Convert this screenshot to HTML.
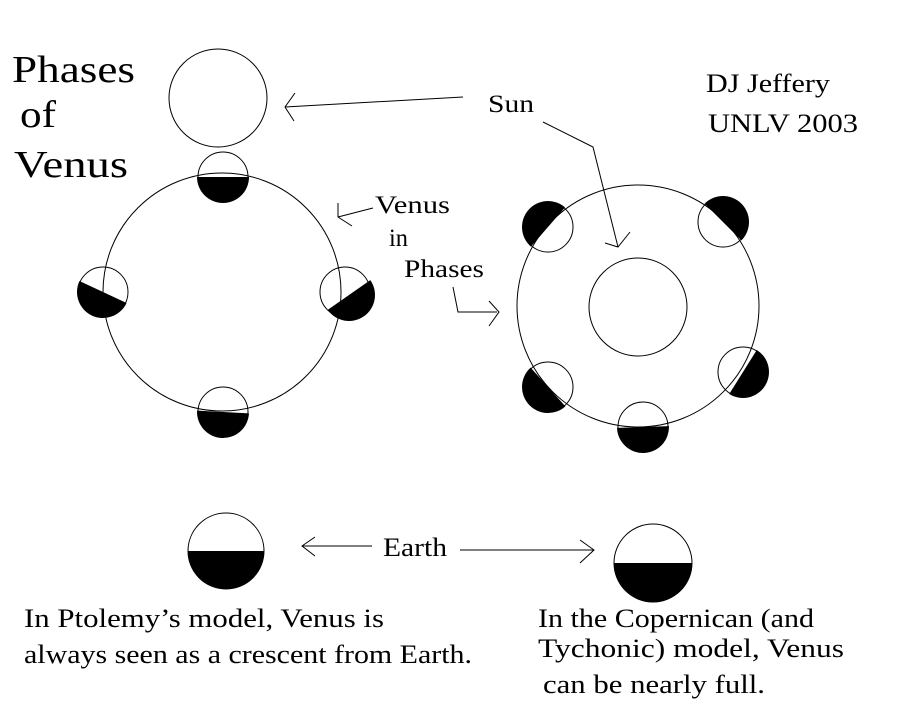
<!DOCTYPE html>
<html><head><meta charset="utf-8"><style>
html,body{margin:0;padding:0;background:#fff;}
svg{display:block;}
text{font-family:"Liberation Serif",serif;fill:#000;}
</style></head><body>
<svg width="922" height="714" viewBox="0 0 922 714" xmlns="http://www.w3.org/2000/svg">
<defs>
<path id="hd" d="M -26 0 A 26 26 0 0 0 26 0 Z" fill="#000"/>
</defs>
<g fill="none" stroke="#000" stroke-width="1">
<circle cx="218" cy="98" r="49"/>
<circle cx="222" cy="292" r="119"/>
<circle cx="638" cy="306" r="121"/>
<circle cx="638" cy="307" r="49"/>
</g>
<g>
<use href="#hd" transform="translate(223,177) rotate(0)"/>
<circle cx="223" cy="177" r="25" fill="none" stroke="#000"/>
<use href="#hd" transform="translate(103,292) rotate(25)"/>
<circle cx="103" cy="292" r="25" fill="none" stroke="#000"/>
<use href="#hd" transform="translate(345,292) translate(4,3) rotate(-35)"/>
<circle cx="345" cy="292" r="25" fill="none" stroke="#000"/>
<use href="#hd" transform="translate(223,412) rotate(3)"/>
<circle cx="223" cy="412" r="25" fill="none" stroke="#000"/>
</g>
<g>
<use href="#hd" transform="translate(548,227) rotate(131)"/>
<circle cx="548" cy="227" r="25" fill="none" stroke="#000"/>
<use href="#hd" transform="translate(723,222) rotate(225)"/>
<circle cx="723" cy="222" r="25" fill="none" stroke="#000"/>
<use href="#hd" transform="translate(548,387) rotate(48)"/>
<circle cx="548" cy="387" r="25" fill="none" stroke="#000"/>
<use href="#hd" transform="translate(643,427) rotate(-2)"/>
<circle cx="643" cy="427" r="25" fill="none" stroke="#000"/>
<use href="#hd" transform="translate(743,372) rotate(-58)"/>
<circle cx="743" cy="372" r="25" fill="none" stroke="#000"/>
</g>
<path d="M 188 551 A 38 38 0 0 0 264 551 Z" fill="#000"/>
<circle cx="226" cy="551" r="38" fill="none" stroke="#000"/>
<path d="M 614 563 A 39 39 0 0 0 692 563 Z" fill="#000"/>
<circle cx="653" cy="563" r="39" fill="none" stroke="#000"/>
<g fill="none" stroke="#000" stroke-width="1">
<path d="M463 97 L285 107 M295 93 L285 107 L294 121"/>
<path d="M543 122 L593 147 L618 247 M605 243 L618 247 L630 232"/>
<path d="M373 208 L338 217 M338 203 L338 217 L352 226"/>
<path d="M453 287 L458 312 L497 312 M489 301 L499 312 L489 326"/>
<path d="M372 546 L302 546 M315 537 L302 546 L315 556"/>
<path d="M460 550 L594 550 M580 540 L594 550 L580 563"/>
</g>
<text x="12" y="82" font-size="38" textLength="123" lengthAdjust="spacingAndGlyphs">Phases</text>
<text x="20" y="127" font-size="38" textLength="36" lengthAdjust="spacingAndGlyphs">of</text>
<text x="14" y="177" font-size="38" textLength="114" lengthAdjust="spacingAndGlyphs">Venus</text>
<text x="488" y="112" font-size="25" textLength="46" lengthAdjust="spacingAndGlyphs">Sun</text>
<text x="706" y="92" font-size="26" textLength="124" lengthAdjust="spacingAndGlyphs">DJ Jeffery</text>
<text x="708" y="132" font-size="26" textLength="150" lengthAdjust="spacingAndGlyphs">UNLV 2003</text>
<text x="375" y="213" font-size="25" textLength="75" lengthAdjust="spacingAndGlyphs">Venus</text>
<text x="389" y="246" font-size="25" textLength="19" lengthAdjust="spacingAndGlyphs">in</text>
<text x="404" y="277" font-size="25" textLength="80" lengthAdjust="spacingAndGlyphs">Phases</text>
<text x="383" y="556" font-size="26" textLength="64" lengthAdjust="spacingAndGlyphs">Earth</text>
<text x="24" y="627" font-size="26" textLength="360" lengthAdjust="spacingAndGlyphs">In Ptolemy’s model, Venus is</text>
<text x="24" y="663" font-size="26" textLength="448" lengthAdjust="spacingAndGlyphs">always seen as a crescent from Earth.</text>
<text x="538" y="627" font-size="26" textLength="276" lengthAdjust="spacingAndGlyphs">In the Copernican (and</text>
<text x="538" y="657" font-size="26" textLength="306" lengthAdjust="spacingAndGlyphs">Tychonic) model,  Venus</text>
<text x="543" y="693" font-size="26" textLength="222" lengthAdjust="spacingAndGlyphs">can be nearly full.</text>
</svg>
</body></html>
